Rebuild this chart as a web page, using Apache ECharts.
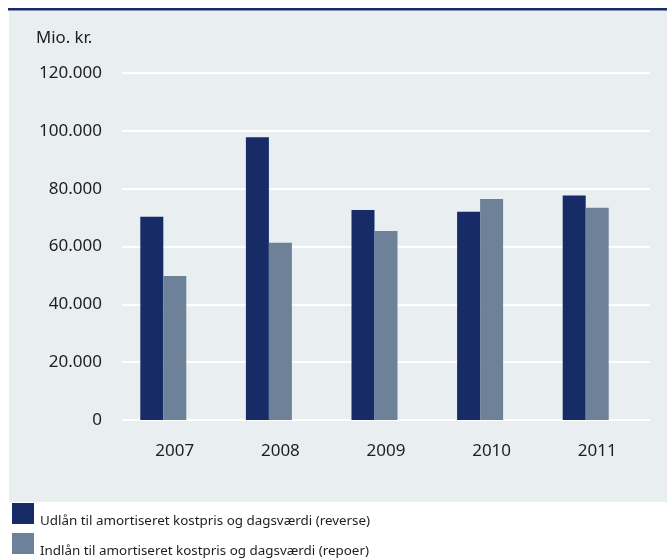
<!DOCTYPE html>
<html>
<head>
<meta charset="utf-8">
<script src="https://cdn.jsdelivr.net/npm/echarts@6/dist/echarts.min.js"></script>
<style>
  html, body { margin: 0; padding: 0; background: #ffffff; }
  #chart { width: 667px; height: 558px; }
</style>
</head>
<body>
<div id="chart"></div>
<script>
// Years on the category axis
const years = ['2007', '2008', '2009', '2010', '2011'];
// Udlån (reverse), mio. kr.
const udlaan = [70300, 97800, 72600, 72000, 77600];
// Indlån (repoer), mio. kr.
const indlaan = [49800, 61300, 65400, 76400, 73400];
// Legend labels
const nameUdlaan = 'Udlån til amortiseret kostpris og dagsværdi (reverse)';
const nameIndlaan = 'Indlån til amortiseret kostpris og dagsværdi (repoer)';
const unitLabel = 'Mio. kr.';

const NAVY = '#172b66';
const SLATE = '#6d8299';
const FONT = '"Noto Sans", sans-serif';

function fmt(v) {
  return String(v).replace(/\B(?=(\d{3})+(?!\d))/g, '.');
}

// one legend row per series; the label sits a little below the swatch centre
function legendRow(name, top) {
  return {
    data: [name],
    left: 12, top: top, padding: 0,
    itemWidth: 22, itemHeight: 21,
    icon: 'rect',
    formatter: '{t|{name}}',
    textStyle: {
      fontFamily: FONT, fontSize: 13.4, color: '#1e1e1e',
      rich: { t: { fontFamily: FONT, fontSize: 13.4, color: '#1e1e1e', padding: [16, 0, 0, 1] } }
    }
  };
}

const chart = echarts.init(document.getElementById('chart'), null, { renderer: 'canvas' });
chart.setOption({
  animation: false,
  textStyle: { fontFamily: FONT },
  graphic: [
    { type: 'rect', z: -10, silent: true,
      shape: { x: 9, y: 10, width: 658, height: 492 },
      style: { fill: '#e9eef1' } },
    { type: 'rect', z: -9, silent: true,
      shape: { x: 8, y: 8, width: 659, height: 2.5 },
      style: { fill: '#1a2a6c' } }
  ],
  title: {
    text: unitLabel,
    left: 31, top: 25,
    textStyle: { fontFamily: FONT, fontSize: 16.8, fontWeight: 'normal', color: '#1e1e1e' }
  },
  legend: [legendRow(nameUdlaan, 503), legendRow(nameIndlaan, 533)],
  grid: { left: 122, right: 17, top: 73, bottom: 138, containLabel: false },
  xAxis: {
    type: 'category',
    data: years,
    axisLine: { show: false },
    axisTick: { show: false },
    axisLabel: { fontFamily: FONT, fontSize: 17, color: '#1e1e1e', margin: 23 }
  },
  yAxis: {
    type: 'value',
    min: 0, max: 120000, interval: 20000,
    axisLine: { show: false },
    axisTick: { show: false },
    splitLine: { lineStyle: { color: '#ffffff', width: 2 } },
    axisLabel: { fontFamily: FONT, fontSize: 17, color: '#1e1e1e', margin: 20, formatter: fmt }
  },
  series: [
    { name: nameUdlaan, type: 'bar', data: udlaan, barWidth: 23, barGap: '0%',
      itemStyle: { color: NAVY } },
    { name: nameIndlaan, type: 'bar', data: indlaan, barWidth: 23, barGap: '0%',
      itemStyle: { color: SLATE } },
    // empty slot to the right of each pair, keeps the pair left of the year label
    { name: 'spacer', type: 'bar', data: years.map(() => null), barWidth: 23, barGap: '0%',
      itemStyle: { color: 'transparent' }, silent: true }
  ]
});
</script>
</body>
</html>
